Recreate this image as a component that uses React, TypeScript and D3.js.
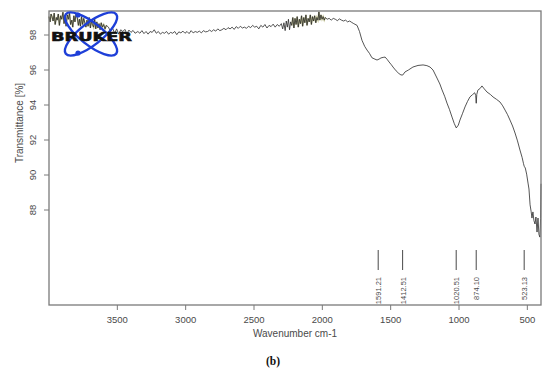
import React from "react";
import * as d3 from "d3";

// spectrum, [wavenumber cm-1, transmittance %]
const noisyStart: [number, number][] = [
  [4000, 99.05], [3992, 98.75], [3985, 99.2], [3978, 99.05], [3970, 98.8], [3962, 99.25],
  [3955, 98.6], [3946, 99.0], [3940, 98.85], [3932, 99.2], [3924, 98.55], [3915, 99.1],
  [3907, 98.9], [3898, 99.3], [3890, 98.65], [3883, 98.95], [3875, 98.5], [3866, 99.15],
  [3858, 98.9], [3850, 99.25], [3842, 98.6], [3833, 98.85], [3826, 98.45], [3818, 99.1],
  [3810, 98.75], [3802, 99.2], [3793, 99.0], [3785, 98.55], [3777, 98.9], [3770, 98.5],
  [3762, 99.05], [3754, 98.6], [3746, 98.95], [3738, 98.7], [3730, 98.45], [3722, 98.85],
  [3714, 98.5], [3706, 99.0], [3697, 98.4], [3690, 98.8], [3682, 98.6], [3674, 98.45],
  [3666, 98.9], [3658, 98.35], [3650, 98.75], [3642, 98.4], [3634, 98.65], [3626, 98.3],
  [3618, 98.7], [3610, 98.45], [3600, 98.6], [3590, 98.35], [3580, 98.55],
];

const ohRegion: [number, number][] = [
  [3565, 98.45], [3550, 98.2], [3535, 98.4], [3520, 98.1], [3505, 98.35], [3490, 98.05],
  [3475, 98.3], [3460, 98.2], [3445, 98.32], [3430, 98.08], [3415, 98.28], [3400, 98.15],
  [3385, 98.26], [3370, 98.1],
];

const plateau: [number, number][] = [
  [3350, 98.2], [3335, 98.1], [3320, 98.25], [3305, 98.08], [3290, 98.2], [3275, 98.05],
  [3260, 98.2], [3245, 98.15], [3230, 98.3], [3215, 98.1], [3200, 98.2], [3185, 98.05],
  [3170, 98.15], [3155, 98.1], [3140, 98.2], [3125, 98.05], [3110, 98.15], [3095, 98.1],
  [3080, 98.2], [3065, 98.02], [3050, 98.18], [3035, 98.12], [3020, 98.22], [3005, 98.1],
  [2990, 98.2], [2975, 98.08], [2960, 98.25], [2945, 98.12], [2930, 98.2], [2915, 98.15],
  [2900, 98.22], [2885, 98.12], [2870, 98.25], [2855, 98.18], [2840, 98.2], [2825, 98.28],
  [2810, 98.2], [2795, 98.3], [2780, 98.22], [2765, 98.35], [2750, 98.25], [2735, 98.3],
  [2720, 98.38], [2705, 98.3], [2690, 98.42], [2675, 98.35], [2660, 98.45], [2645, 98.32],
  [2630, 98.48], [2615, 98.38], [2600, 98.5], [2585, 98.4], [2570, 98.45], [2555, 98.38],
  [2540, 98.5], [2525, 98.42], [2510, 98.55], [2495, 98.45], [2480, 98.5], [2465, 98.35],
  [2450, 98.55], [2435, 98.45], [2420, 98.6], [2405, 98.4], [2390, 98.55], [2375, 98.48],
  [2360, 98.62], [2345, 98.45], [2330, 98.6], [2315, 98.5], [2300, 98.65],
];

const co2Region: [number, number][] = [
  [2290, 98.35], [2281, 98.7], [2272, 98.25], [2264, 98.8], [2256, 98.45], [2248, 98.9],
  [2240, 98.3], [2232, 98.75], [2224, 98.55], [2216, 99.0], [2208, 98.4], [2200, 98.95],
  [2192, 98.6], [2184, 99.05], [2176, 98.45], [2168, 98.9], [2160, 98.65], [2152, 99.1],
  [2144, 98.5], [2136, 99.0], [2128, 98.7], [2120, 99.15], [2112, 98.55], [2104, 98.95],
  [2096, 98.75], [2088, 99.15], [2080, 98.6], [2072, 99.05], [2064, 98.8], [2056, 99.1],
  [2048, 98.7], [2040, 99.0], [2032, 98.85], [2025, 99.32], [2018, 98.85], [2010, 99.15],
  [2002, 98.9], [1994, 99.05], [1986, 98.85], [1978, 99.0], [1965, 98.9], [1950, 98.95],
  [1935, 98.85], [1920, 98.95], [1905, 98.9], [1890, 98.82], [1875, 98.92], [1860, 98.85],
  [1845, 98.8], [1830, 98.85], [1815, 98.75], [1800, 98.8], [1785, 98.72], [1770, 98.65],
];

const bands: [number, number][] = [
  [1746, 98.55], [1728, 98.2], [1710, 97.7], [1690, 97.35], [1673, 97.14], [1655, 96.95],
  [1637, 96.7], [1615, 96.62], [1600, 96.57], [1585, 96.62], [1571, 96.69], [1555, 96.72],
  [1541, 96.74], [1525, 96.6], [1512, 96.46], [1495, 96.3], [1483, 96.17], [1460, 95.95],
  [1440, 95.8], [1425, 95.72], [1412, 95.71], [1395, 95.89], [1370, 96.0], [1337, 96.17],
  [1300, 96.26], [1263, 96.29], [1235, 96.25], [1212, 96.17], [1190, 96.0], [1161, 95.54],
  [1140, 95.2], [1124, 94.86], [1105, 94.5], [1088, 94.11], [1070, 93.75], [1051, 93.31],
  [1035, 92.95], [1020, 92.69], [1005, 92.85], [993, 93.14], [975, 93.5], [956, 93.89],
  [938, 94.2], [920, 94.46], [900, 94.6], [885, 94.7], [878, 94.55], [874, 94.1],
  [870, 94.6], [862, 94.85], [845, 94.95], [832, 95.09], [815, 94.92], [795, 94.74],
  [770, 94.6], [751, 94.46], [725, 94.32], [700, 94.17], [680, 93.95], [663, 93.71],
  [645, 93.45], [627, 93.14], [608, 92.8], [590, 92.4], [572, 91.95], [554, 91.43],
  [538, 91.0], [528, 90.65], [523, 90.5], [515, 90.4], [505, 90.05], [495, 89.54],
  [488, 89.2], [480, 88.3], [472, 87.9], [466, 87.54], [459, 87.89], [452, 87.4],
  [444, 87.2], [437, 87.6], [429, 86.74], [422, 87.54], [415, 86.6], [408, 86.45],
  [403, 87.5], [400, 89.5],
];

const spectrum: [number, number][] = [...noisyStart, ...ohRegion, ...plateau, ...co2Region, ...bands];

const xTicks = [3500, 3000, 2500, 2000, 1500, 1000, 500];
const yTicks = [88, 90, 92, 94, 96, 98];
const peakLabels = ["1591.21", "1412.51", "1020.51", "874.10", "523.13"];

const W = 550;
const H = 370;
const plot = { left: 49, right: 541, top: 11, bottom: 305 };

export default function App() {
  const x = d3.scaleLinear().domain([4000, 400]).range([plot.left, plot.right]);
  const y = d3.scaleLinear().domain([98, 88]).range([35, 210]);

  const line = d3
    .line<[number, number]>()
    .x((d) => x(d[0]))
    .y((d) => y(d[1]));

  const axisColor = "#7a7a7a";
  const textColor = "#4a4a4a";
  const font = "Liberation Sans, Arial, sans-serif";

  return (
    <svg
      width={W}
      height={H}
      style={{ position: "absolute", left: 0, top: 0, background: "#fff" }}
      fontFamily={font}
    >
      <rect width={W} height={H} fill="#fff" />

      {/* olive tint that shows in the noisy parts */}
      <path d={line(noisyStart) || ""} fill="none" stroke="#9a9a48" strokeWidth={1.6} opacity={0.55} />
      <path d={line(co2Region.slice(8, 40)) || ""} fill="none" stroke="#9a9a48" strokeWidth={1.6} opacity={0.55} />

      {/* spectrum */}
      <path d={line(spectrum) || ""} fill="none" stroke="#2a2a2a" strokeWidth={0.8} />

      {/* plot box */}
      <rect
        x={plot.left}
        y={plot.top}
        width={plot.right - plot.left}
        height={plot.bottom - plot.top}
        fill="none"
        stroke={axisColor}
        strokeWidth={1.3}
      />

      {/* y axis */}
      {yTicks.map((t) => (
        <g key={t}>
          <line x1={plot.left - 5} x2={plot.left} y1={y(t)} y2={y(t)} stroke={axisColor} />
          <text
            transform={`translate(${plot.left - 13},${y(t)}) rotate(-90)`}
            textAnchor="middle"
            fontSize={9.5}
            fill={textColor}
          >
            {t}
          </text>
        </g>
      ))}
      <text
        transform={`translate(23,123) rotate(-90)`}
        textAnchor="middle"
        fontSize={10}
        fill={textColor}
      >
        Transmittance [%]
      </text>

      {/* x axis */}
      {xTicks.map((t) => (
        <g key={t}>
          <line x1={x(t)} x2={x(t)} y1={plot.bottom} y2={plot.bottom + 5} stroke={axisColor} />
          <text x={x(t)} y={plot.bottom + 18} textAnchor="middle" fontSize={9.5} fill={textColor}>
            {t}
          </text>
        </g>
      ))}
      <text x={(plot.left + plot.right) / 2} y={337} textAnchor="middle" fontSize={10} fill={textColor}>
        Wavenumber cm-1
      </text>

      {/* peak picks */}
      {peakLabels.map((p) => {
        const px = x(parseFloat(p));
        return (
          <g key={p}>
            <line x1={px} x2={px} y1={250} y2={270} stroke="#333" strokeWidth={0.9} />
            <text
              transform={`translate(${px + 3},277) rotate(-90)`}
              textAnchor="end"
              fontSize={7.5}
              fill={textColor}
            >
              {p}
            </text>
          </g>
        );
      })}

      {/* Bruker logo */}
      <g fill="none" stroke="#1e3fd8" strokeWidth={2.4}>
        <ellipse cx={91} cy={34} rx={32} ry={11} transform="rotate(38 91 34)" />
        <ellipse cx={91} cy={34} rx={32} ry={11} transform="rotate(-38 91 34)" />
      </g>
      <circle cx={78} cy={15} r={2.6} fill="#1e3fd8" />
      <circle cx={78} cy={53} r={2.6} fill="#1e3fd8" />
      <text
        x={51}
        y={41}
        fontSize={13}
        fontWeight="bold"
        fontFamily="DejaVu Sans, sans-serif"
        fill="#111"
        stroke="#111"
        strokeWidth={0.6}
        textLength={81}
        lengthAdjust="spacingAndGlyphs"
      >
        BRUKER
      </text>

      {/* panel label */}
      <text
        x={273}
        y={365}
        textAnchor="middle"
        fontSize={11.5}
        fontWeight="bold"
        fontFamily="Liberation Serif, Times New Roman, serif"
        fill="#111"
      >
        (b)
      </text>
    </svg>
  );
}
